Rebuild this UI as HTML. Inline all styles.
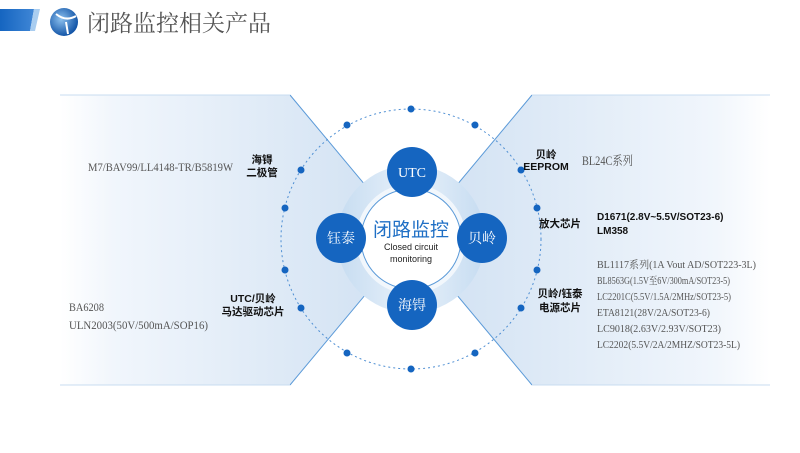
<!DOCTYPE html>
<html><head><meta charset="utf-8"><style>
body{margin:0;width:800px;height:448px;overflow:hidden;background:#fff;font-family:"Liberation Sans","Noto Sans CJK SC",sans-serif;}
</style></head><body>
<svg width="800" height="448" viewBox="0 0 800 448" xmlns="http://www.w3.org/2000/svg">
<defs>
<linearGradient id="gl" x1="0" x2="1" y1="0" y2="0">
<stop offset="0" stop-color="#fff"/>
<stop offset="0.15" stop-color="#f1f6fc"/>
<stop offset="1" stop-color="#cfe0f2"/>
</linearGradient>
<linearGradient id="gr" x1="1" x2="0" y1="0" y2="0">
<stop offset="0" stop-color="#fff"/>
<stop offset="0.15" stop-color="#f1f6fc"/>
<stop offset="1" stop-color="#cfe0f2"/>
</linearGradient>
<linearGradient id="ring" x1="0" x2="1">
<stop offset="0" stop-color="#c6dcf1"/>
<stop offset="0.5" stop-color="#e8f1fa"/>
<stop offset="1" stop-color="#c6dcf1"/>
</linearGradient>
<linearGradient id="hb" x1="0" x2="1"><stop offset="0" stop-color="#1565c0"/><stop offset="1" stop-color="#3f86d6"/></linearGradient>
<radialGradient id="logo" cx="0.4" cy="0.4" r="0.6"><stop offset="0" stop-color="#8cc0ee"/><stop offset="1" stop-color="#1456a8"/></radialGradient>
</defs>
<polygon points="0,9 34,9 30,31 0,31" fill="url(#hb)"/>
<polygon points="34,9 40,9 35,31 30,31" fill="#a9cdf0"/>
<circle cx="64" cy="22" r="14" fill="url(#logo)"/>
<path d="M56,14 Q66,22 76,16 M66,22 L68,34" stroke="#fff" stroke-width="2" fill="none"/>
<text x="87" y="31" font-size="23" fill="#555" font-family="'Liberation Serif','Noto Serif CJK SC',serif">闭路监控相关产品</text>

<polygon points="60,95 290,95 411,239 290,385 60,385" fill="url(#gl)"/>
<polygon points="770,95 532,95 411,239 532,385 770,385" fill="url(#gr)"/>
<line x1="290" y1="95" x2="532" y2="385" stroke="#5b9ad8" stroke-width="1"/>
<line x1="532" y1="95" x2="290" y2="385" stroke="#5b9ad8" stroke-width="1"/>
<line x1="60" y1="95" x2="290" y2="95" stroke="#c8dcf0"/><line x1="60" y1="385" x2="290" y2="385" stroke="#c8dcf0"/>
<line x1="532" y1="95" x2="770" y2="95" stroke="#c8dcf0"/><line x1="532" y1="385" x2="770" y2="385" stroke="#c8dcf0"/>

<circle cx="411" cy="239" r="130" fill="none" stroke="#4f8fd3" stroke-width="1" stroke-dasharray="2,3"/>
<g fill="#1565c0">
<circle cx="411" cy="109" r="3.5"/><circle cx="411" cy="369" r="3.5"/>
<circle cx="285" cy="208" r="3.5"/><circle cx="285" cy="270" r="3.5"/>
<circle cx="301" cy="170" r="3.5"/><circle cx="301" cy="308" r="3.5"/>
<circle cx="347" cy="125" r="3.5"/><circle cx="347" cy="353" r="3.5"/>
<circle cx="537" cy="208" r="3.5"/><circle cx="537" cy="270" r="3.5"/>
<circle cx="521" cy="170" r="3.5"/><circle cx="521" cy="308" r="3.5"/>
<circle cx="475" cy="125" r="3.5"/><circle cx="475" cy="353" r="3.5"/>
</g>

<circle cx="411" cy="239" r="74" fill="url(#ring)"/>
<circle cx="411" cy="239" r="55" fill="#f2f7fc"/>
<circle cx="411" cy="239" r="50" fill="#fff" stroke="#5b9ad8" stroke-width="1"/>
<text x="411" y="236" text-anchor="middle" font-size="19" fill="#1f6fc5">闭路监控</text>
<text x="411" y="250" text-anchor="middle" font-size="9" fill="#222">Closed circuit</text>
<text x="411" y="262" text-anchor="middle" font-size="9" fill="#222">monitoring</text>

<g fill="#1565c0"><circle cx="412" cy="172" r="25"/><circle cx="341" cy="238" r="25"/><circle cx="482" cy="238" r="25"/><circle cx="412" cy="305" r="25"/></g>
<g fill="#fff" font-size="14" text-anchor="middle" font-family="'Liberation Serif','Noto Serif CJK SC',serif">
<text x="412" y="177">UTC</text><text x="341" y="243">钰泰</text><text x="482" y="243">贝岭</text><text x="412" y="310">海锝</text>
</g>

<g font-family="'Liberation Serif','Noto Serif CJK SC',serif" fill="#555" font-size="12" lengthAdjust="spacingAndGlyphs">
<text x="88" y="171" textLength="145" lengthAdjust="spacingAndGlyphs">M7/BAV99/LL4148-TR/B5819W</text>
<text x="69" y="311" textLength="35" lengthAdjust="spacingAndGlyphs">BA6208</text>
<text x="69" y="329" textLength="139" lengthAdjust="spacingAndGlyphs">ULN2003(50V/500mA/SOP16)</text>
<text x="582" y="165" font-size="12.5" textLength="51" lengthAdjust="spacingAndGlyphs">BL24C系列</text>
<g font-size="10.5">
<text x="597" y="268" textLength="159" lengthAdjust="spacingAndGlyphs">BL1117系列(1A Vout AD/SOT223-3L)</text>
<text x="597" y="284" textLength="133" lengthAdjust="spacingAndGlyphs">BL8563G(1.5V至6V/300mA/SOT23-5)</text>
<text x="597" y="300" textLength="134" lengthAdjust="spacingAndGlyphs">LC2201C(5.5V/1.5A/2MHz/SOT23-5)</text>
<text x="597" y="316" textLength="113" lengthAdjust="spacingAndGlyphs">ETA8121(28V/2A/SOT23-6)</text>
<text x="597" y="332" textLength="124" lengthAdjust="spacingAndGlyphs">LC9018(2.63V/2.93V/SOT23)</text>
<text x="597" y="348" textLength="143" lengthAdjust="spacingAndGlyphs">LC2202(5.5V/2A/2MHZ/SOT23-5L)</text>
</g>
</g>
<g font-size="10.5" fill="#111" font-weight="bold" text-anchor="middle">
<text x="262" y="163">海锝</text><text x="262" y="176">二极管</text>
<text x="253" y="302">UTC/贝岭</text><text x="253" y="315">马达驱动芯片</text>
<text x="546" y="158">贝岭</text><text x="546" y="170">EEPROM</text>
<text x="560" y="227">放大芯片</text>
<text x="560" y="297">贝岭/钰泰</text><text x="560" y="311">电源芯片</text>
</g>
<g font-size="10" fill="#111" font-weight="bold">
<text x="597" y="220">D1671(2.8V~5.5V/SOT23-6)</text>
<text x="597" y="234">LM358</text>
</g>
</svg>
</body></html>
